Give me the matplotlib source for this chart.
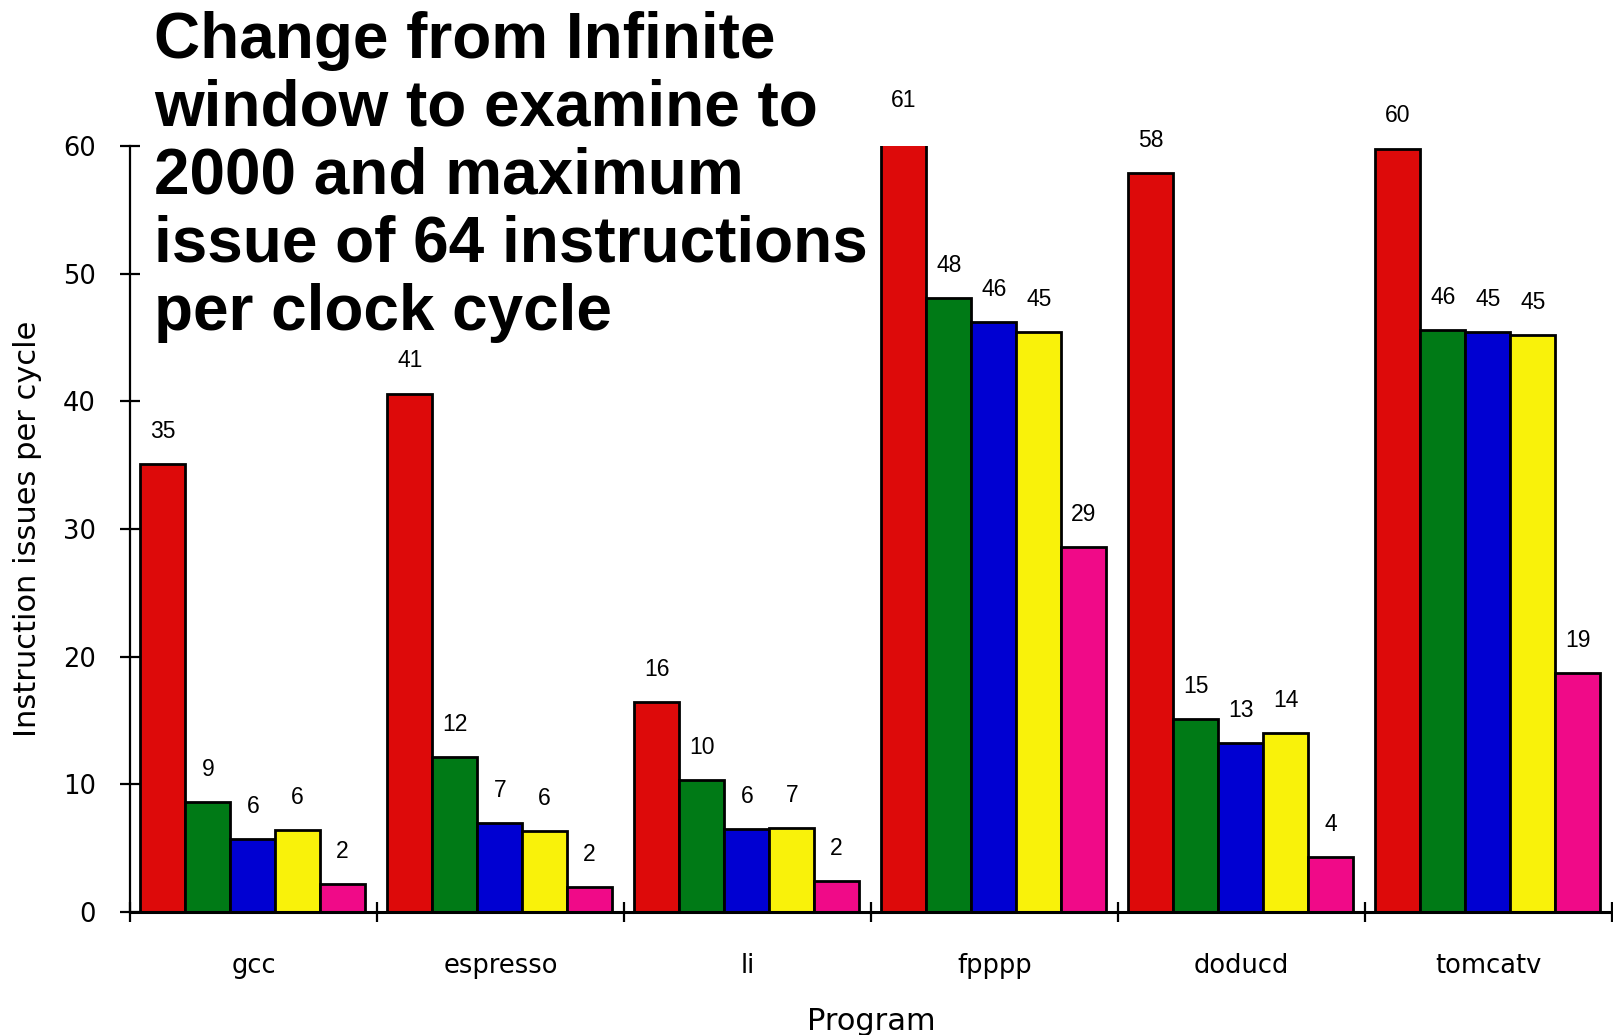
import matplotlib.pyplot as plt
import numpy as np

# Instruction issues per cycle, window of 2000, up to 64 issues per clock
programs = ["gcc", "espresso", "li", "fpppp", "doducd", "tomcatv"]
perfect = [35.1, 40.6, 16.4, 61.0, 57.9, 59.8]
tournament = [8.6, 12.1, 10.3, 48.1, 15.1, 45.6]
two_bit = [5.7, 6.95, 6.45, 46.2, 13.2, 45.4]
profile = [6.4, 6.3, 6.55, 45.4, 14.0, 45.2]
no_predictor = [2.2, 1.9, 2.4, 28.6, 4.3, 18.7]

series = [perfect, tournament, two_bit, profile, no_predictor]
colors = ["#dd0a0a", "#007a16", "#0000d2", "#f9f20a", "#f00a88"]

title = ("Change from Infinite\nwindow to examine to\n2000 and maximum\n"
         "issue of 64 instructions\nper clock cycle")

fig = plt.figure(figsize=(16.13, 10.35), dpi=100)
ax = fig.add_axes([0.0806, 0.1191, 0.9188, 0.7398])

x = np.arange(len(programs))
width = 0.182
start = 0.042
for j, (vals, c) in enumerate(zip(series, colors)):
    pos = x + start + width * (j + 0.5)
    bars = ax.bar(pos, vals, width, color=c, edgecolor="black", linewidth=2.0)
    for b, v in zip(bars, vals):
        ax.annotate(f"{v:.0f}", (b.get_x() + b.get_width() / 2, v),
                    xytext=(0, 23.5), textcoords="offset points",
                    ha="center", va="center", fontsize=16.5,
                    family="Liberation Sans", annotation_clip=False)

ax.set_xlim(0, len(programs))
ax.set_ylim(0, 60)

for s in ("top", "right"):
    ax.spines[s].set_visible(False)
ax.spines["left"].set_linewidth(1.6)
ax.spines["bottom"].set_linewidth(2.2)

# group boundaries as major ticks, program names on minor ticks
ax.set_xticks(np.arange(len(programs) + 1))
ax.set_xticklabels([])
ax.set_xticks(x + 0.5, minor=True)
ax.set_xticklabels(programs, minor=True, fontsize=18.5, family="DejaVu Sans")
ax.tick_params(axis="x", which="major", direction="inout", length=15, width=1.6)
ax.tick_params(axis="x", which="minor", length=0, pad=30)

ax.set_yticks(range(0, 61, 10))
ax.tick_params(axis="y", direction="inout", length=15, width=1.6,
               labelsize=18.5, pad=17)

ax.set_xlabel("Program", fontsize=22, family="DejaVu Sans")
ax.xaxis.label.set_va("center")
ax.xaxis.set_label_coords(0.5, -0.1430)
ax.set_ylabel("Instruction issues per cycle", fontsize=22, family="DejaVu Sans")
ax.yaxis.label.set_va("center")
ax.yaxis.set_label_coords(-0.0695, 0.5)

fig.text(154 / 1613, 1 - 11 / 1035, title, ha="left", va="top",
         fontsize=46, fontweight="bold", family="Liberation Sans",
         linespacing=1.17)

fig.savefig("out.png", dpi=100)
